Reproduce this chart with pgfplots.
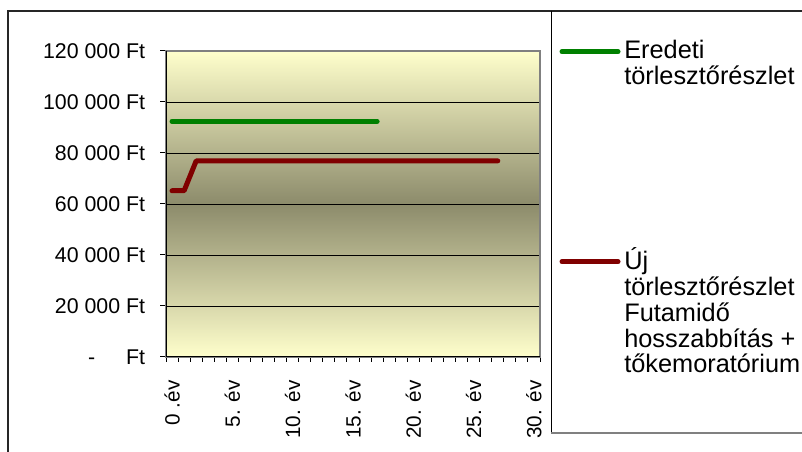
\documentclass[border=0pt]{standalone}
\usepackage{pgfplots}
\pgfplotsset{compat=1.18}
\usepackage{fontspec}
\setmainfont{Liberation Sans}

\definecolor{bgtop}{HTML}{FFFFCC}
\definecolor{bgmid}{HTML}{8C8B6B}
\definecolor{eredeti}{HTML}{008000}
\definecolor{uj}{HTML}{800000}

\begin{document}
\begin{tikzpicture}
% 1 px of the reference = 0.75pt
\path[use as bounding box] (0,0) rectangle (601.5pt,339pt);
\begin{axis}[
    at={(124.5pt,71.25pt)}, anchor=south west,
    width=280.5pt, height=229.5pt, scale only axis,
    xmin=-0.5, xmax=30.5,
    ymin=0, ymax=120000,
    scaled y ticks=false,
    axis background/.style={top color=bgtop, bottom color=bgtop, middle color=bgmid},
    axis line style={draw=gray, line width=1.2pt},
    tick align=outside,
    xtick pos=bottom, ytick pos=left,
    tick style={black, line width=0.75pt},
    major tick length=4.5pt,
    minor tick length=3.75pt,
    ytick={0,20000,40000,60000,80000,100000,120000},
    yticklabels={{-\hspace{1.45em}Ft},{20 000 Ft},{40 000 Ft},{60 000 Ft},{80 000 Ft},{100 000 Ft},{120 000 Ft}},
    xtick={0,5,10,15,20,25,30},
    xticklabels={{0 .év},{5. év},{10. év},{15. év},{20. év},{25. év},{30. év}},
    minor xtick={-0.5,0.5,...,30.5},
    major x tick style={draw=none},
    ymajorgrids=true,
    major grid style={black, line width=0.6pt},
    tick label style={font=\fontsize{15.5}{18}\selectfont},
    yticklabel style={anchor=east, inner sep=0pt, font=\fontsize{16}{18}\selectfont},
    yticklabel shift=11pt,
    xticklabel style={rotate=90, anchor=east, inner sep=0pt},
    xticklabel shift=13pt,
]
\addplot[eredeti, line width=3.75pt, line cap=round, line join=round]
    coordinates {
        (0,92400)(1,92400)(2,92400)(3,92400)(4,92400)(5,92400)(6,92400)(7,92400)(8,92400)
        (9,92400)(10,92400)(11,92400)(12,92400)(13,92400)(14,92400)(15,92400)(16,92400)(17,92400)
    };
\addplot[uj, line width=3.75pt, line cap=round, line join=round]
    coordinates {
        (0,65200)(1,65200)(2,76900)(3,76900)(4,76900)(5,76900)(6,76900)(7,76900)(8,76900)
        (9,76900)(10,76900)(11,76900)(12,76900)(13,76900)(14,76900)(15,76900)(16,76900)(17,76900)
        (18,76900)(19,76900)(20,76900)(21,76900)(22,76900)(23,76900)(24,76900)(25,76900)(26,76900)(27,76900)
    };
% left and bottom axis lines in black
\draw[black, line width=1.2pt] (rel axis cs:0,1) -- (rel axis cs:0,0) -- (rel axis cs:1,0);
\end{axis}

% outer frame
\draw[black!85, line width=1pt] (6pt,-2pt) -- (6pt,330.75pt) -- (605pt,330.75pt);
% legend frame
\draw[black, line width=0.75pt] (413.25pt,330.75pt) -- (413.25pt,14.25pt);
\draw[gray, line width=1.5pt] (413.25pt,14.25pt) -- (605pt,14.25pt);

% legend entries
\draw[eredeti, line width=3.75pt, line cap=round] (421.5pt,300.2pt) -- (463.5pt,300.2pt);
\draw[uj, line width=3.75pt, line cap=round] (421.5pt,142.7pt) -- (463.5pt,142.7pt);
\begin{scope}[every node/.style={anchor=base west, inner sep=0pt, font=\fontsize{19}{19}\selectfont}]
\node at (468pt,294.75pt) {Eredeti};
\node at (468pt,275.45pt) {törlesztőrészlet};
\node at (468pt,136.5pt) {Új};
\node at (468pt,117.2pt) {törlesztőrészlet};
\node at (468pt,97.9pt) {Futamidő};
\node at (468pt,78.6pt) {hosszabbítás +};
\node at (468pt,59.3pt) {tőkemoratórium};
\end{scope}
\end{tikzpicture}
\end{document}
